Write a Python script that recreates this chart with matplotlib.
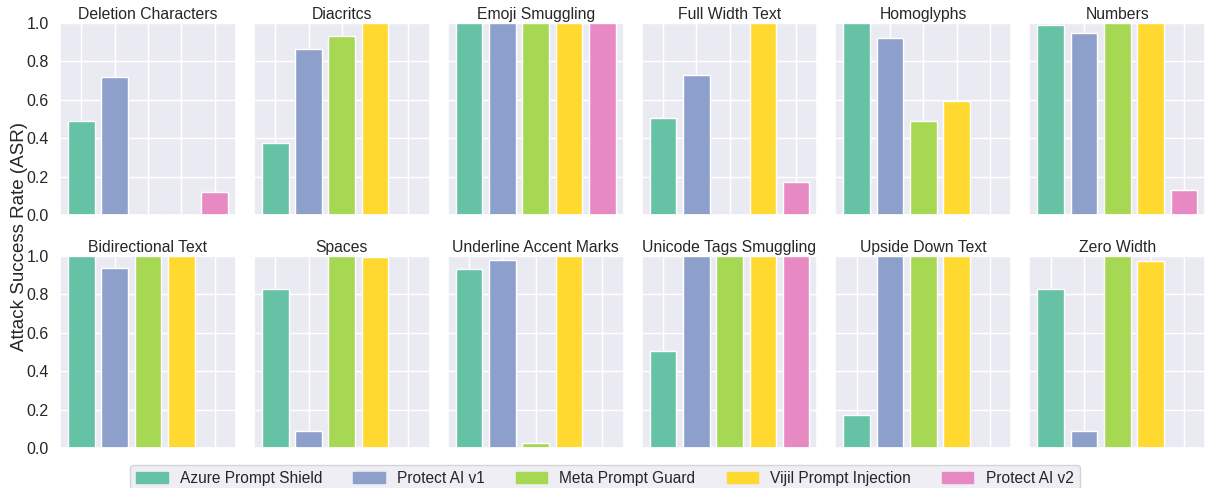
import numpy as np
import matplotlib
matplotlib.use('Agg')
import matplotlib.pyplot as plt
import seaborn as sns

sns.set_theme(style='darkgrid')
plt.rcParams['font.family'] = ['Liberation Sans', 'DejaVu Sans']

attacks = ['Deletion Characters', 'Diacritcs', 'Emoji Smuggling', 'Full Width Text',
           'Homoglyphs', 'Numbers', 'Bidirectional Text', 'Spaces',
           'Underline Accent Marks', 'Unicode Tags Smuggling', 'Upside Down Text', 'Zero Width']
guards = ['Azure Prompt Shield', 'Protect AI v1', 'Meta Prompt Guard',
          'Vijil Prompt Injection', 'Protect AI v2']
colors = ['#66c2a5', '#8da0cb', '#a6d854', '#ffd92f', '#e78ac3']

# ASR per attack, one list per guard (same order as attacks)
azure  = [0.49, 0.375, 1.0, 0.507, 1.0, 0.99, 1.0, 0.827, 0.932, 0.503, 0.172, 0.829]
pai_v1 = [0.72, 0.865, 1.0, 0.731, 0.921, 0.946, 0.935, 0.088, 0.981, 1.0, 1.0, 0.088]
meta   = [0.0, 0.93, 1.0, 0.0, 0.49, 1.0, 1.0, 1.0, 0.026, 1.0, 1.0, 1.0]
vijil  = [0.0, 1.0, 1.0, 1.0, 0.591, 1.0, 1.0, 0.997, 1.0, 1.0, 1.0, 0.972]
pai_v2 = [0.12, 0.0, 1.0, 0.171, 0.0, 0.13, 0.0, 0.0, 0.0, 1.0, 0.0, 0.0]
series = [azure, pai_v1, meta, vijil, pai_v2]

fig, axes = plt.subplots(2, 6, figsize=(12.1, 4.88), dpi=100, sharey=True)
fig.subplots_adjust(left=0.0496, right=0.996, top=0.953, bottom=0.082,
                    wspace=0.102, hspace=0.214)

x = np.arange(len(guards))
for i, ax in enumerate(axes.flat):
    vals = [s[i] for s in series]
    ax.bar(x, vals, color=colors, edgecolor='white', linewidth=1, width=0.8)
    ax.set_title(attacks[i], fontsize=11.3, pad=3)
    ax.set_ylim(0, 1)
    ax.set_xticks(x)
    ax.set_xticklabels([])
    ax.tick_params(axis='x', length=0)
    ax.tick_params(axis='y', labelsize=11.5, pad=2)

fig.text(0.016, 0.515, 'Attack Success Rate (ASR)', rotation=90,
         ha='center', va='center', fontsize=13.5)

handles = [plt.Rectangle((0, 0), 1, 1, color=c) for c in colors]
fig.legend(handles, guards, loc='lower center', bbox_to_anchor=(0.5, -0.025),
           ncol=5, fontsize=11.2, frameon=True)

fig.savefig('out.png', dpi=100)
